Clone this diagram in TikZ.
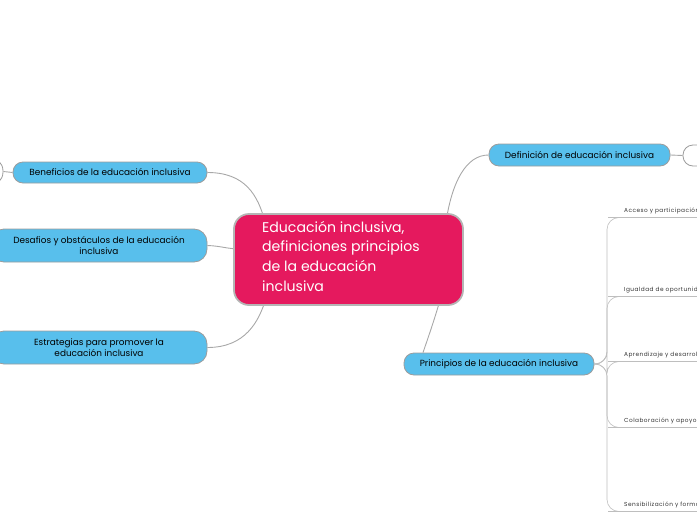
\documentclass[tikz,border=0pt]{standalone}
\usepackage{fontspec}
\setmainfont{Poppins}
\definecolor{pinkc}{HTML}{E5195E}
\definecolor{bluec}{HTML}{58BFEC}
\definecolor{edgec}{HTML}{A8A8A8}
\definecolor{bordc}{HTML}{9C9C9C}
\definecolor{leaftxt}{HTML}{333333}
\begin{document}
\begin{tikzpicture}[x=1pt,y=-1pt,
  conn/.style={draw=edgec, line width=0.9pt},
  leafline/.style={draw=edgec!75, line width=0.6pt, rounded corners=12pt},
  bluebox/.style={draw=bordc, line width=0.8pt, fill=bluec, rounded corners=10pt, inner sep=0pt, align=center, font=\fontsize{8.9}{11.5}\selectfont, text=black},
  ghost/.style={draw=bordc, line width=0.8pt, fill=white, inner sep=0pt},
  leaftext/.style={anchor=base west, inner sep=0pt, font=\fontsize{5.8}{6}\selectfont\addfontfeature{LetterSpace=8}, text=leaftxt}
]
\useasboundingbox (0,0) rectangle (697,520);
\begin{scope}
\clip (0,0) rectangle (697,520);
% connectors from central node
\coordinate (cb) at (265,222);
\coordinate (cd) at (242,249);
\coordinate (ce) at (266,298);
\coordinate (cf) at (446,222);
\coordinate (cp) at (440,300);
% partial ghost nodes
\node[ghost, rounded corners=14pt, minimum width=80pt, minimum height=29pt] (g1) at (-37,171.5) {};
\node[ghost, rounded corners=10pt, minimum width=80pt, minimum height=21pt] (g2) at (723,155.5) {};
% blue nodes
\node[bluebox, minimum width=194pt, minimum height=21pt] (ben) at (110,172.5) {Beneficios de la educación inclusiva};
\node[bluebox, rounded corners=13pt, minimum width=216pt, minimum height=33pt] (des) at (99,245.5) {Desafios y obstáculos de la educación\\inclusiva};
\node[bluebox, rounded corners=13pt, minimum width=216pt, minimum height=33pt] (est) at (99,347.5) {Estrategias para promover la\\educación inclusiva};
\node[bluebox, minimum width=181pt, minimum height=22pt] (def) at (579.5,155) {Definición de educación inclusiva};
\node[bluebox, minimum width=190pt, minimum height=22pt] (pri) at (499,364) {Principios de la educación inclusiva};
% connectors
\draw[conn] (ben.east) .. controls (245,172.5) and (258,195) .. (cb);
\draw[conn] (des.east) .. controls (222,246) and (226,249) .. (cd);
\draw[conn] (est.east) .. controls (245,347.5) and (259,322) .. (ce);
\draw[conn] (def.west) .. controls (466,155) and (452,182) .. (cf);
\draw[conn] (pri.north -| 423,0) .. controls (428,338) and (435,318) .. (cp);
\draw[conn] (g1.east) -- (ben.west);
\draw[conn] (def.east) -- (g2.west);
% central node
\node[draw=edgec!85, line width=1.8pt, fill=pinkc, rounded corners=15pt, minimum width=229pt, minimum height=91pt, inner sep=0pt] (c) at (348.5,259.5) {};
\node[anchor=north west, inner sep=0pt, text=white, align=left, font=\fontsize{14.1}{19.6}\selectfont] (ct) at (262,221) {Educación inclusiva,\\definiciones principios\\de la educación\\inclusiva};
% leaves
\coordinate (sp) at (607,364);
\foreach \n/\yu/\t in {a/217.5/Acceso y participación, b/296.5/Igualdad de oportunidades, c/361.5/Aprendizaje y desarrollo, d/427.5/Colaboración y apoyo, e/511.5/Sensibilización y formación}{
  \draw[leafline] (pri.east) -- (sp) -- (607,\yu) -- (620,\yu) -- (720,\yu);
  \node[leaftext] (l\n) at (624,\yu-5) {\t};
}
\end{scope}
\end{tikzpicture}
\end{document}
